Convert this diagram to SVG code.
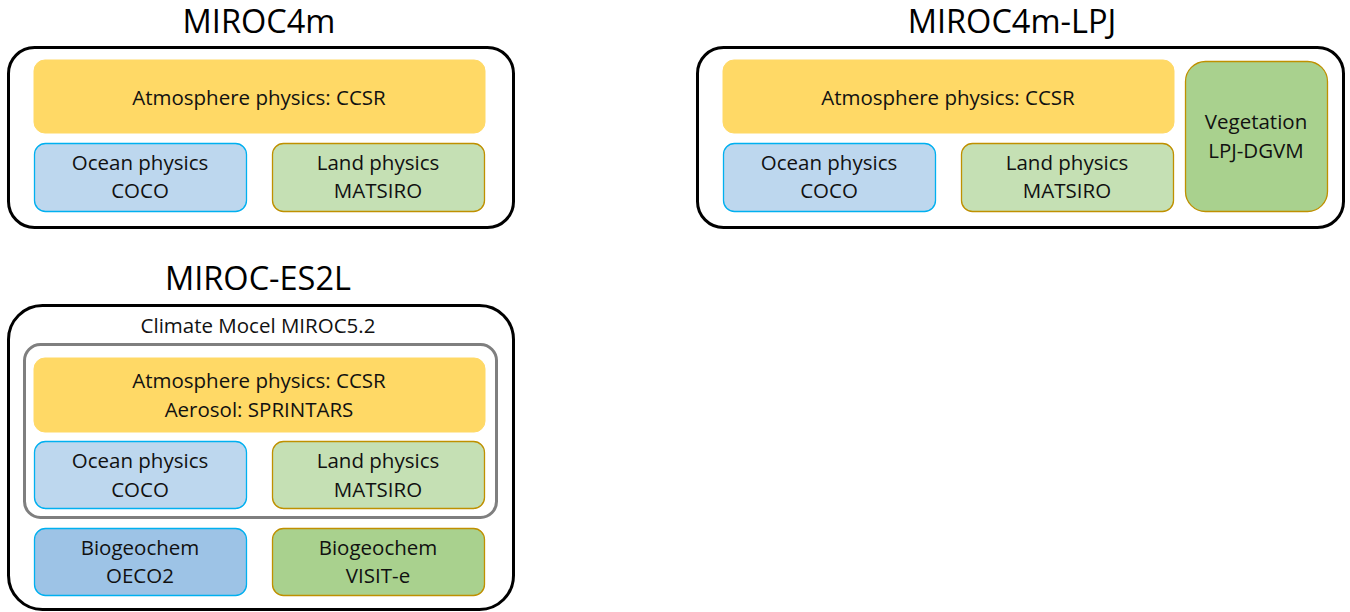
<svg xmlns="http://www.w3.org/2000/svg" width="1350" height="612" viewBox="0 0 1350 612">
<style>
.title{font-family:"Open Sans","Liberation Sans",sans-serif;font-size:32.5px;fill:#000;text-anchor:middle}
.t{font-family:"Open Sans","Liberation Sans",sans-serif;font-size:20.5px;fill:#111;text-anchor:middle}
.outer{fill:#fff;stroke:#000;stroke-width:3}
.inner{fill:none;stroke:#7f7f7f;stroke-width:3}
.atm{fill:#ffd966;stroke:#ffd966;stroke-width:1}
.ocean{fill:#bdd7ee;stroke:#00b0f0;stroke-width:1.3}
.land{fill:#c5e0b4;stroke:#bf9000;stroke-width:1.3}
.veg{fill:#a9d18e;stroke:#bf9000;stroke-width:1.3}
.bocean{fill:#9dc3e6;stroke:#00b0f0;stroke-width:1.3}
.bland{fill:#a9d18e;stroke:#bf9000;stroke-width:1.3}
</style>
<rect width="1350" height="612" fill="#fff"/>

<g id="miroc4m">
<text class="title" x="259" y="33">MIROC4m</text>
<rect class="outer" x="8.5" y="47.5" width="505" height="180" rx="26"/>
<g id="miroc4m-atm"><rect class="atm" x="34" y="60" width="451" height="73" rx="11"/>
<text class="t" x="259" y="105">Atmosphere physics: CCSR</text></g>
<g id="miroc4m-ocean"><rect class="ocean" x="34.5" y="143.5" width="212" height="68" rx="11"/>
<text class="t" x="140" y="170">Ocean physics</text><text class="t" x="140" y="198">COCO</text></g>
<g id="miroc4m-land"><rect class="land" x="272.5" y="143.5" width="212" height="68" rx="11"/>
<text class="t" x="378" y="170">Land physics</text><text class="t" x="378" y="198">MATSIRO</text></g>
</g>

<g id="miroc4m-lpj">
<text class="title" x="1012" y="33">MIROC4m-LPJ</text>
<rect class="outer" x="697.5" y="47.5" width="646" height="180" rx="26"/>
<g id="lpj-atm"><rect class="atm" x="723" y="60" width="451" height="73" rx="11"/>
<text class="t" x="948" y="105">Atmosphere physics: CCSR</text></g>
<g id="lpj-ocean"><rect class="ocean" x="723.5" y="143.5" width="212" height="68" rx="11"/>
<text class="t" x="829" y="170">Ocean physics</text><text class="t" x="829" y="198">COCO</text></g>
<g id="lpj-land"><rect class="land" x="961.5" y="143.5" width="212" height="68" rx="11"/>
<text class="t" x="1067" y="170">Land physics</text><text class="t" x="1067" y="198">MATSIRO</text></g>
<g id="lpj-veg"><rect class="veg" x="1185.5" y="61.5" width="142" height="150" rx="20"/>
<text class="t" x="1256" y="129">Vegetation</text><text class="t" x="1256" y="158">LPJ-DGVM</text></g>
</g>

<g id="miroc-es2l">
<text class="title" x="258" y="290">MIROC-ES2L</text>
<rect class="outer" x="8.5" y="305.5" width="505" height="304" rx="34"/>
<text class="t" x="258" y="333">Climate Mocel MIROC5.2</text>
<g id="miroc52"><rect class="inner" x="24.5" y="344.5" width="472" height="173" rx="16"/></g>
<g id="es2l-atm"><rect class="atm" x="34" y="358" width="451" height="74" rx="11"/>
<text class="t" x="259" y="388">Atmosphere physics: CCSR</text><text class="t" x="259" y="417">Aerosol: SPRINTARS</text></g>
<g id="es2l-ocean"><rect class="ocean" x="34.5" y="441.5" width="212" height="67" rx="11"/>
<text class="t" x="140" y="468">Ocean physics</text><text class="t" x="140" y="497">COCO</text></g>
<g id="es2l-land"><rect class="land" x="272.5" y="441.5" width="212" height="67" rx="11"/>
<text class="t" x="378" y="468">Land physics</text><text class="t" x="378" y="497">MATSIRO</text></g>
<g id="es2l-oeco2"><rect class="bocean" x="34.5" y="528.5" width="212" height="67" rx="11"/>
<text class="t" x="140" y="555">Biogeochem</text><text class="t" x="140" y="583">OECO2</text></g>
<g id="es2l-visit"><rect class="bland" x="272.5" y="528.5" width="212" height="67" rx="11"/>
<text class="t" x="378" y="555">Biogeochem</text><text class="t" x="378" y="583">VISIT-e</text></g>
</g>

<g id="connectors"></g>
</svg>
